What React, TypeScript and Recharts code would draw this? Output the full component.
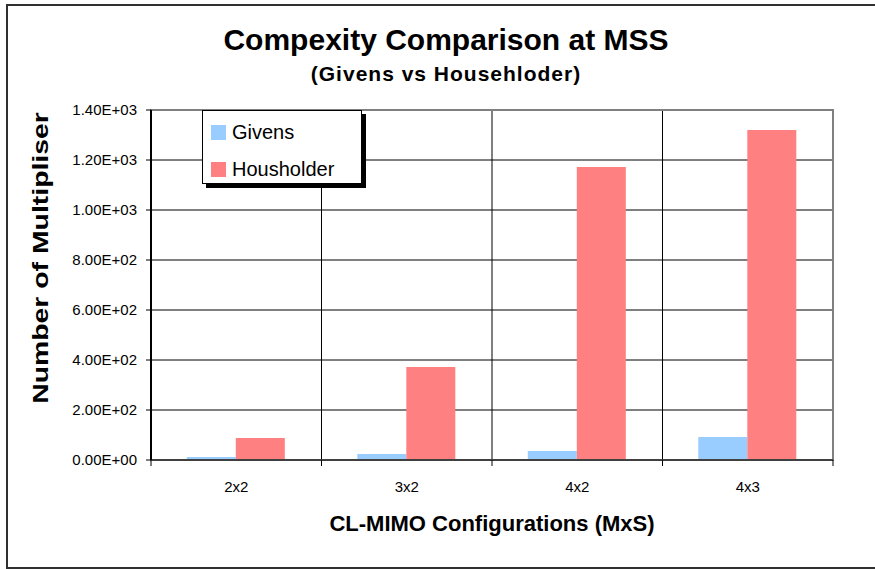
import React from "react";
import { BarChart, Bar, XAxis, YAxis, CartesianGrid, ReferenceArea } from "recharts";

const CATEGORIES = ["2x2", "3x2", "4x2", "4x3"];
const GIVENS = [12, 24, 36, 92];
const HOUSEHOLDER = [88, 372, 1172, 1320];
const Y_TICKS = [0, 200, 400, 600, 800, 1000, 1200, 1400];

const TITLE = "Compexity Comparison at MSS";
const SUBTITLE = "(Givens vs Househloder)";
const Y_TITLE = "Number of Multipliser";
const X_TITLE = "CL-MIMO Configurations (MxS)";
const SERIES_NAMES = ["Givens", "Housholder"];

const data = CATEGORIES.map((c, i) => ({ cat: c, givens: GIVENS[i], householder: HOUSEHOLDER[i] }));

const W = 875;
const H = 569;
const MARGIN = { top: 110, right: 42, bottom: 79, left: 61 };
const Y_AXIS_W = 90;
const X_AXIS_H = 30;
const PLOT_W = W - MARGIN.left - MARGIN.right - Y_AXIS_W;

const FONT = "'Liberation Sans', Arial, sans-serif";
const BLUE = "#99CCFF";
const RED = "#FF8080";

const fmtExp = (v: number) => {
  if (v === 0) return "0.00E+00";
  const e = Math.floor(Math.log10(v));
  const m = v / Math.pow(10, e);
  return `${m.toFixed(2)}E+${String(e).padStart(2, "0")}`;
};

const XTick = (props: any) => {
  const { x, y, payload, index } = props;
  const band = PLOT_W / CATEGORIES.length;
  const left = x - band / 2;
  const right = x + band / 2;
  return (
    <g>
      <line x1={left} x2={left} y1={y - 5} y2={y + 1} stroke="#000" strokeWidth={1} />
      {index === CATEGORIES.length - 1 && (
        <line x1={right} x2={right} y1={y - 5} y2={y + 1} stroke="#000" strokeWidth={1} />
      )}
      <text x={x} y={y + 27} textAnchor="middle" fontSize={15} fontFamily={FONT} fill="#000">
        {payload.value}
      </text>
    </g>
  );
};

const YTick = (props: any) => {
  const { x, y, payload } = props;
  return (
    <text x={x} y={y + 5} textAnchor="end" fontSize={15} fontFamily={FONT} fill="#000">
      {fmtExp(payload.value)}
    </text>
  );
};

const LegendBox = () => (
  <div
    style={{
      position: "absolute",
      left: 202,
      top: 110,
      width: 158,
      height: 72,
      border: "1px solid #000",
      boxShadow: "4px 4px 0 #000",
      background: "#fff",
      fontFamily: FONT,
      fontSize: 20,
      color: "#000",
    }}
  >
    {SERIES_NAMES.map((n, i) => (
      <div
        key={n}
        style={{ position: "absolute", left: 8, top: 13 + i * 37, display: "flex", alignItems: "center", height: 16 }}
      >
        <div style={{ width: 15, height: 15, background: i === 0 ? BLUE : RED }} />
        <span style={{ marginLeft: 6, lineHeight: "16px" }}>{n}</span>
      </div>
    ))}
  </div>
);

export default function App() {
  return (
    <div style={{ position: "absolute", left: 0, top: 0, width: W, height: H, overflow: "hidden", background: "#fff" }}>
      <div
        style={{
          position: "absolute",
          left: 6,
          top: 4,
          width: W - 6,
          height: 565,
          boxSizing: "border-box",
          borderTop: "2px solid #303030",
          borderLeft: "2px solid #303030",
          borderBottom: "2px solid #303030",
        }}
      />
      <BarChart
        width={W}
        height={H}
        data={data}
        margin={MARGIN}
        barCategoryGap="21%"
        barGap={0}
        style={{ position: "absolute", left: 0, top: 0 }}
      >
        <CartesianGrid
          stroke="#000"
          strokeWidth={1}
          verticalCoordinatesGenerator={({ offset }: any) =>
            CATEGORIES.map((_, i) => offset.left + ((i + 1) * offset.width) / CATEGORIES.length).slice(0, -1)
          }
        />
        <ReferenceArea y1={0} y2={1400} fill="none" stroke="#808080" strokeWidth={2} ifOverflow="visible" />
        <XAxis
          dataKey="cat"
          height={X_AXIS_H}
          tickLine={false}
          tickSize={5}
          tickMargin={0}
          axisLine={{ stroke: "#404040", strokeWidth: 2 }}
          tick={<XTick />}
          interval={0}
        />
        <YAxis
          width={Y_AXIS_W}
          domain={[0, 1400]}
          ticks={Y_TICKS}
          tickSize={5}
          tickMargin={9}
          tickLine={{ stroke: "#000" }}
          axisLine={{ stroke: "#000", strokeWidth: 2 }}
          tick={<YTick />}
          interval={0}
        />
        <Bar dataKey="givens" name={SERIES_NAMES[0]} fill={BLUE} isAnimationActive={false} />
        <Bar dataKey="householder" name={SERIES_NAMES[1]} fill={RED} isAnimationActive={false} />
      </BarChart>
      <LegendBox />
      <div
        style={{
          position: "absolute",
          left: 0,
          width: 892,
          top: 23,
          textAlign: "center",
          fontFamily: FONT,
          fontWeight: "bold",
          fontSize: 30,
          lineHeight: "34px",
          color: "#000",
        }}
      >
        {TITLE}
      </div>
      <div
        style={{
          position: "absolute",
          left: 0,
          width: 892,
          top: 62,
          textAlign: "center",
          fontFamily: FONT,
          fontWeight: "bold",
          fontSize: 21,
          letterSpacing: 1,
          lineHeight: "24px",
          color: "#000",
        }}
      >
        {SUBTITLE}
      </div>
      <div
        style={{
          position: "absolute",
          left: 151,
          width: 682,
          top: 510,
          textAlign: "center",
          fontFamily: FONT,
          fontWeight: "bold",
          fontSize: 22,
          lineHeight: "28px",
          color: "#000",
        }}
      >
        {X_TITLE}
      </div>
      <div
        style={{
          position: "absolute",
          left: 41,
          top: 258,
          transform: "translate(-50%, -50%) rotate(-90deg) scaleX(1.29)",
          whiteSpace: "nowrap",
          fontFamily: FONT,
          fontWeight: "bold",
          fontSize: 22,
          lineHeight: "26px",
          color: "#000",
        }}
      >
        {Y_TITLE}
      </div>
    </div>
  );
}
